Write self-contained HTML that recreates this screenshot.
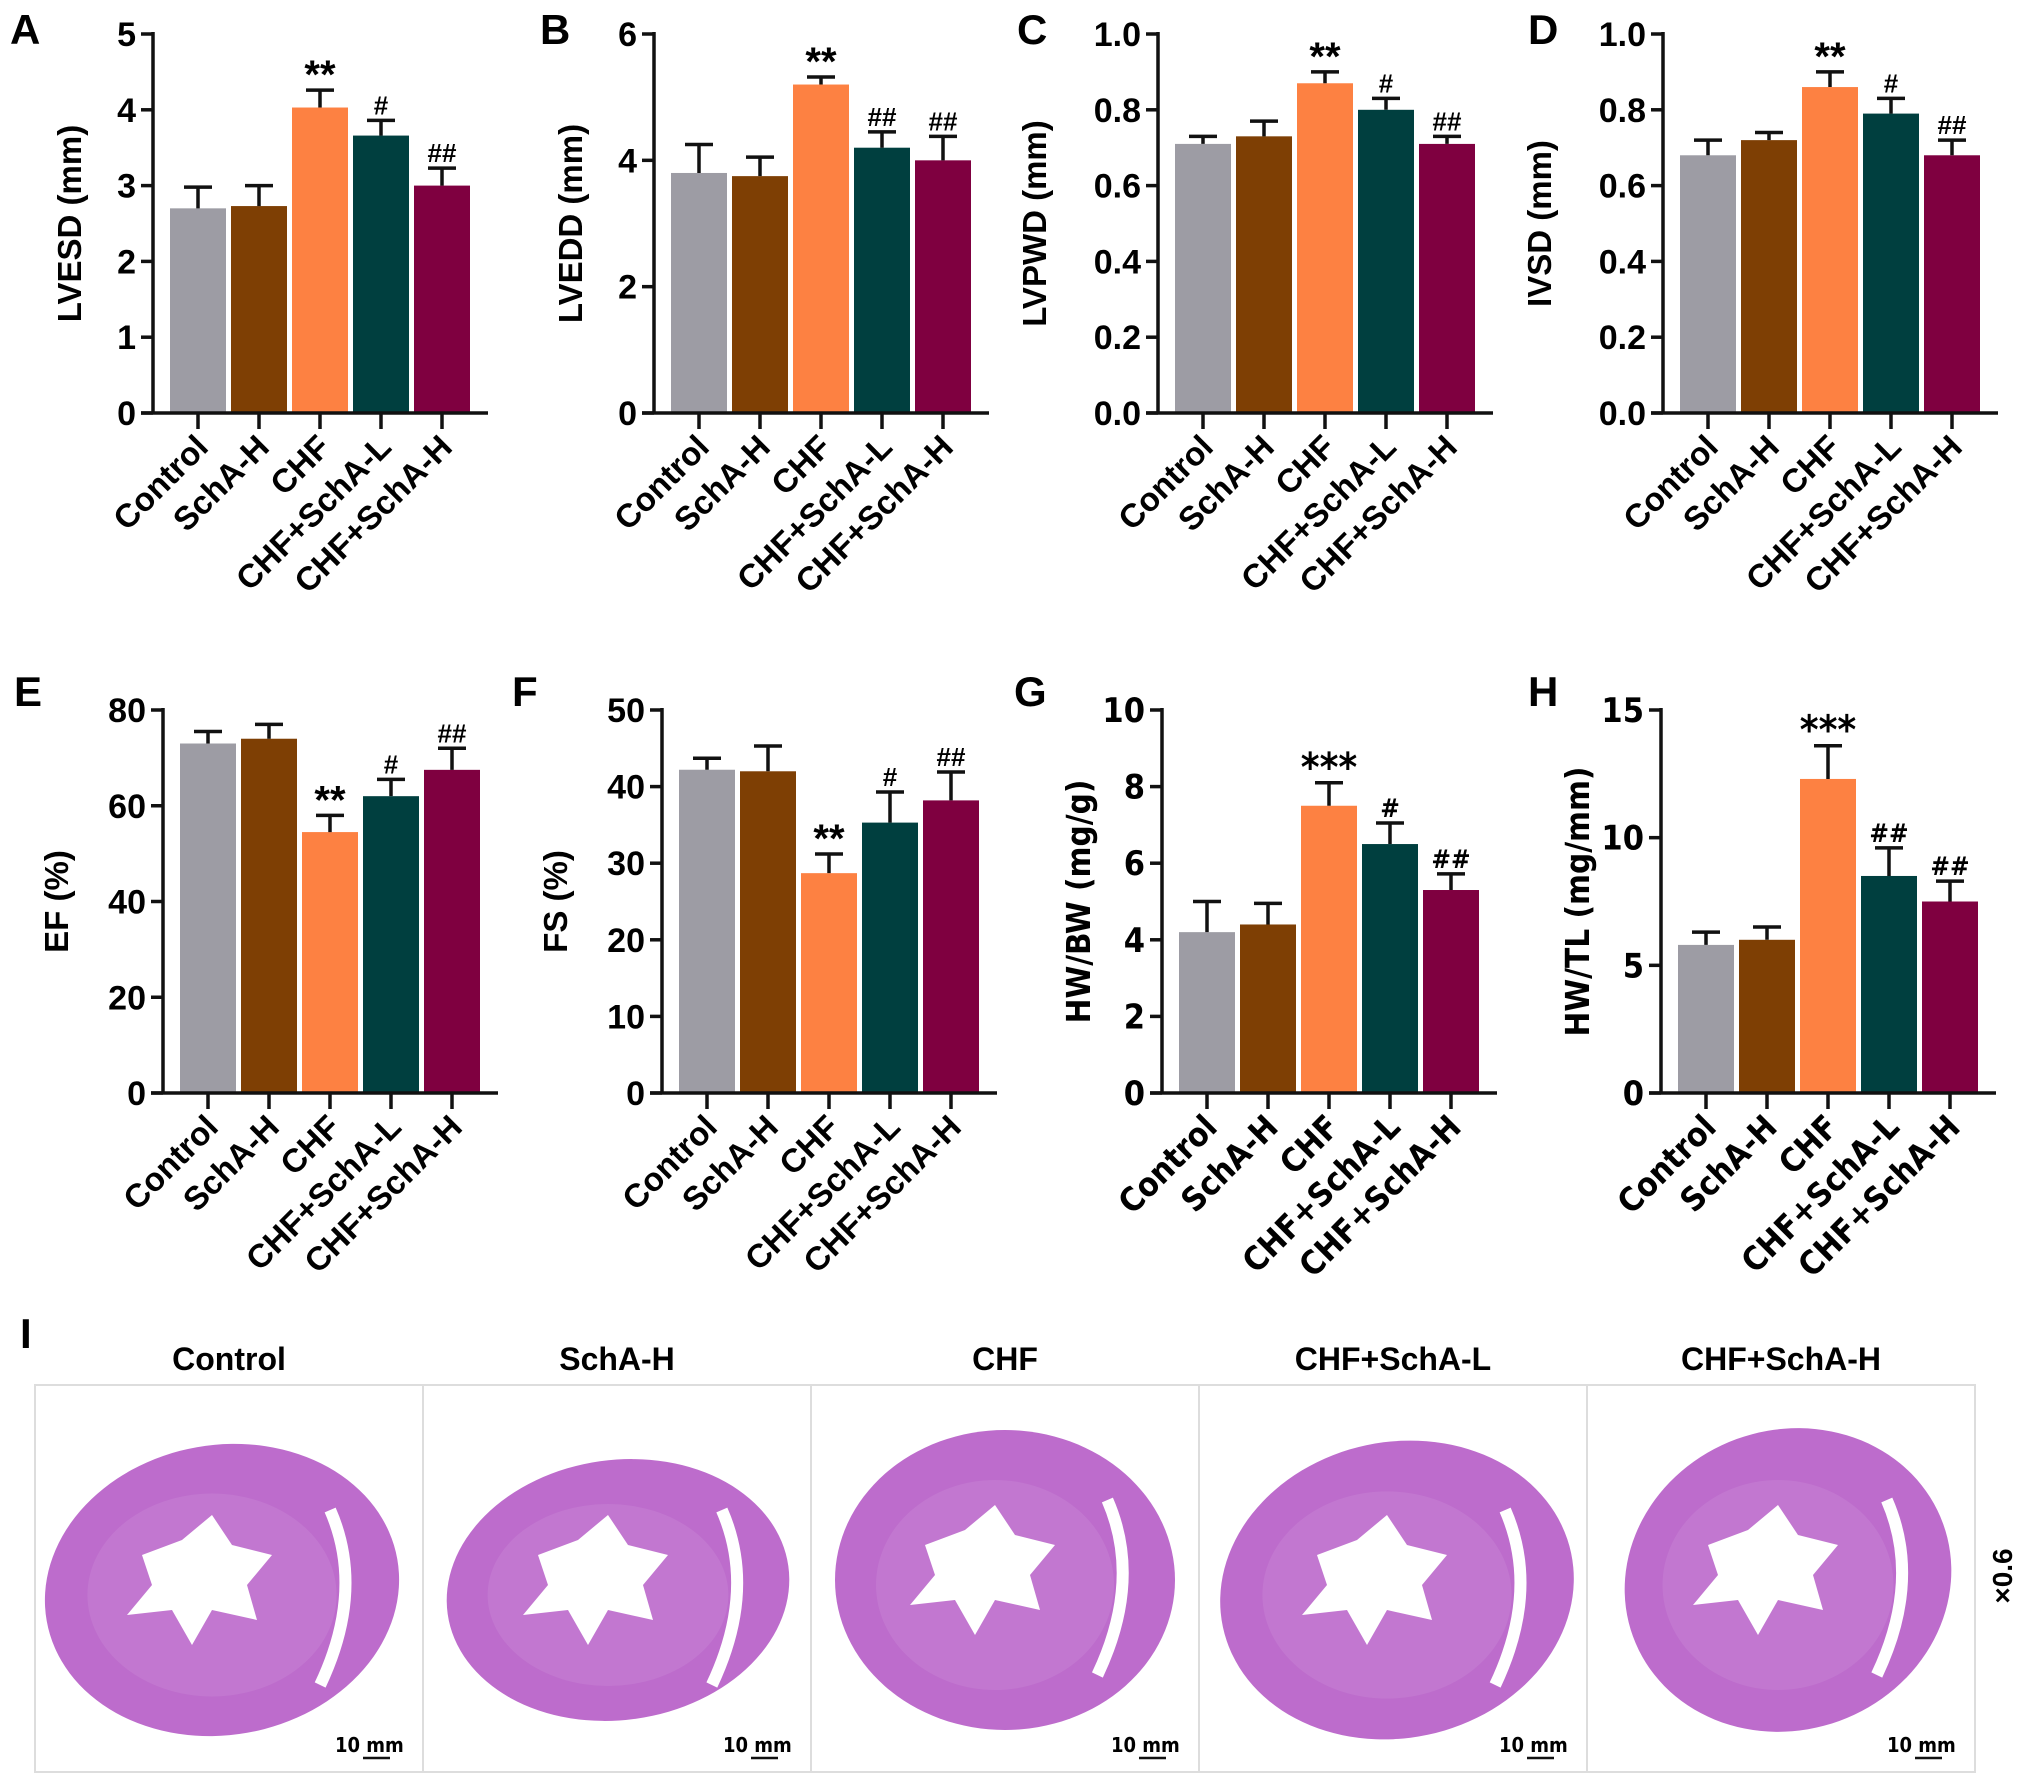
<!DOCTYPE html>
<html><head><meta charset="utf-8">
<style>
html,body{margin:0;padding:0;background:#fff;}
svg{display:block;font-family:"Liberation Sans",Arial,sans-serif;}
</style></head>
<body>
<svg id="fig" width="2031" height="1787" viewBox="0 0 2031 1787"></svg>
<script>
const categories = ["Control","SchA-H","CHF","CHF+SchA-L","CHF+SchA-H"];
const colors = ["#9d9ca4","#7e3f04","#fd8142","#003f3f","#7f0040"];
const lvesdValues = [2.70, 2.73, 4.03, 3.66, 3.00];
const lvesdErrors = [0.28, 0.27, 0.23, 0.20, 0.23];
const lvesdSig = ["", "", "**", "#", "##"];
const lvesdTicks = [0,1,2,3,4,5];
const lveddValues = [3.80, 3.75, 5.20, 4.20, 4.00];
const lveddErrors = [0.45, 0.30, 0.12, 0.25, 0.38];
const lveddSig = ["", "", "**", "##", "##"];
const lveddTicks = [0,2,4,6];
const lvpwdValues = [0.71, 0.73, 0.87, 0.80, 0.71];
const lvpwdErrors = [0.02, 0.04, 0.03, 0.03, 0.02];
const lvpwdSig = ["", "", "**", "#", "##"];
const ivsdValues = [0.68, 0.72, 0.86, 0.79, 0.68];
const ivsdErrors = [0.04, 0.02, 0.04, 0.04, 0.04];
const ivsdSig = ["", "", "**", "#", "##"];
const fracTicks = ["0.0","0.2","0.4","0.6","0.8","1.0"];
const efValues = [73.0, 74.0, 54.5, 62.0, 67.5];
const efErrors = [2.5, 3.0, 3.5, 3.5, 4.5];
const efSig = ["", "", "**", "#", "##"];
const efTicks = [0,20,40,60,80];
const fsValues = [42.2, 42.0, 28.7, 35.3, 38.2];
const fsErrors = [1.5, 3.3, 2.5, 4.0, 3.7];
const fsSig = ["", "", "**", "#", "##"];
const fsTicks = [0,10,20,30,40,50];
const hwbwValues = [4.2, 4.4, 7.5, 6.5, 5.3];
const hwbwErrors = [0.8, 0.55, 0.6, 0.55, 0.42];
const hwbwSig = ["", "", "***", "#", "##"];
const hwbwTicks = [0,2,4,6,8,10];
const hwtlValues = [5.8, 6.0, 12.3, 8.5, 7.5];
const hwtlErrors = [0.5, 0.5, 1.3, 1.1, 0.8];
const hwtlSig = ["", "", "***", "##", "##"];
const hwtlTicks = [0,5,10,15];

const NS = "http://www.w3.org/2000/svg";
const svg = document.getElementById("fig");
function mk(tag, attrs, parent){
  const e = document.createElementNS(NS, tag);
  for (const k in attrs) e.setAttribute(k, attrs[k]);
  (parent||svg).appendChild(e);
  return e;
}

function panel(p){
  const g = mk("g", {});
  
  
  const ax = p.ax, top = p.top, zero = p.zero;
  const ymax = parseFloat(p.ticks[p.ticks.length-1]);
  const y = v => zero - (v / ymax) * (zero - top);
  const xc = i => ax + 45 + i * 61;
  const fam = p.narrow ? '"DejaVu Sans Condensed","Liberation Sans",sans-serif' : '"Liberation Sans",sans-serif';
  const L = mk("text", {x: p.lx, y: p.ly, "font-size": 42, "font-weight": "bold", "font-family": '"Liberation Sans",sans-serif'}, g);
  L.textContent = p.letter;
  
  
  p.values.forEach((v, i) => {
    const r = mk("rect", {x: xc(i) - 28, y: y(v), width: 56, height: zero - y(v), fill: colors[i]}, g);
    
    
    const et = y(v + p.errors[i]);
    const eb = mk("path", {d: `M${xc(i)} ${y(v)}V${et}M${xc(i)-14} ${et}H${xc(i)+14}`, stroke: "#111", "stroke-width": 3.5, fill: "none"}, g);
    
    
    if (p.sig[i]) {
      const star = p.sig[i].startsWith("*");
      const s = mk("text", {x: xc(i), y: et - (star ? 2 : 6), "text-anchor": "middle", "font-size": star ? 40 : 26, "font-weight": "bold", "font-family": fam}, g);
      s.textContent = p.sig[i];
      
      
    }
  });
  const axes = mk("path", {d: `M${ax} ${top-2}V${zero}M${ax-12} ${zero}H${ax+335}`, stroke: "#111", "stroke-width": 3.5, fill: "none"}, g);
  
  
  p.ticks.forEach(t => {
    const yy = y(parseFloat(t));
    mk("path", {d: `M${ax-12} ${yy}H${ax}`, stroke: "#111", "stroke-width": 3.5}, g);
    const tl = mk("text", {x: ax - 17, y: yy + 12, "text-anchor": "end", "font-size": 34, "font-weight": "bold", "font-family": fam}, g);
    tl.textContent = t;
    
    
  });
  categories.forEach((c, i) => {
    mk("path", {d: `M${xc(i)} ${zero}V${zero+16}`, stroke: "#111", "stroke-width": 3.5}, g);
    const tx = xc(i) + 12, ty = zero + 36;
    const cl = mk("text", {x: tx, y: ty, "text-anchor": "end", "font-size": 33, "font-weight": "bold", "font-family": fam, transform: `rotate(-45 ${tx} ${ty})`}, g);
    cl.textContent = c;
    
    
  });
  const tx = ax - p.titleOff, ty = (top + zero) / 2;
  const title = mk("text", {x: tx, y: ty, "text-anchor": "middle", "font-size": 33, "font-weight": "bold", "font-family": fam, transform: `rotate(-90 ${tx} ${ty})`}, g);
  title.textContent = p.title;
  
  
}

const r1 = {top: 34, zero: 413}, r2 = {top: 710, zero: 1093};
panel({letter:"A", lx:10, ly:44, ax:153, ...r1, values:lvesdValues, errors:lvesdErrors, sig:lvesdSig, ticks:lvesdTicks.map(String), title:"LVESD (mm)", titleOff:72});
panel({letter:"B", lx:540, ly:44, ax:654, ...r1, values:lveddValues, errors:lveddErrors, sig:lveddSig, ticks:lveddTicks.map(String), title:"LVEDD (mm)", titleOff:72});
panel({letter:"C", lx:1017, ly:44, ax:1158, ...r1, values:lvpwdValues, errors:lvpwdErrors, sig:lvpwdSig, ticks:fracTicks, title:"LVPWD (mm)", titleOff:112});
panel({letter:"D", lx:1528, ly:44, ax:1663, ...r1, values:ivsdValues, errors:ivsdErrors, sig:ivsdSig, ticks:fracTicks, title:"IVSD (mm)", titleOff:112});
panel({letter:"E", lx:14, ly:706, ax:163, ...r2, values:efValues, errors:efErrors, sig:efSig, ticks:efTicks.map(String), title:"EF (%)", titleOff:95});
panel({letter:"F", lx:512, ly:706, ax:662, ...r2, values:fsValues, errors:fsErrors, sig:fsSig, ticks:fsTicks.map(String), title:"FS (%)", titleOff:95});
panel({letter:"G", lx:1014, ly:706, ax:1162, ...r2, values:hwbwValues, errors:hwbwErrors, sig:hwbwSig, ticks:hwbwTicks.map(String), title:"HW/BW (mg/g)", titleOff:72, narrow:true});
panel({letter:"H", lx:1528, ly:706, ax:1661, ...r2, values:hwtlValues, errors:hwtlErrors, sig:hwtlSig, ticks:hwtlTicks.map(String), title:"HW/TL (mg/mm)", titleOff:72, narrow:true});

const hg = mk("g", {});


const IL = mk("text", {x: 20, y: 1348, "font-size": 42, "font-weight": "bold"}, hg);
IL.textContent = "I";


const frame = mk("rect", {x: 35, y: 1385, width: 1940, height: 387, fill: "#fff", stroke: "#ddd", "stroke-width": 2}, hg);


const hearts = [
  {cx: 222, cy: 1590, rx: 178, ry: 145, rot: -10},
  {cx: 618, cy: 1590, rx: 172, ry: 130, rot: -8},
  {cx: 1005, cy: 1580, rx: 170, ry: 150, rot: 0},
  {cx: 1397, cy: 1590, rx: 178, ry: 148, rot: -12},
  {cx: 1788, cy: 1580, rx: 165, ry: 150, rot: -20}
];
hearts.forEach((h, i) => {
  const px = 35 + i * 388;
  if (i > 0) mk("line", {x1: px, y1: 1386, x2: px, y2: 1771, stroke: "#ddd", "stroke-width": 2}, hg);
  const lab = mk("text", {x: px + 194, y: 1370, "text-anchor": "middle", "font-size": 32, "font-weight": "bold"}, hg);
  lab.textContent = categories[i];
  
  
  const e = mk("ellipse", {cx: h.cx, cy: h.cy, rx: h.rx, ry: h.ry, fill: "#bd6ccc", transform: `rotate(${h.rot} ${h.cx} ${h.cy})`}, hg);
  
  
  mk("ellipse", {cx: h.cx - 10, cy: h.cy + 5, rx: h.rx * 0.7, ry: h.ry * 0.7, fill: "#c47fd2", opacity: 0.6}, hg);
  const c = h.cx - 20, d = h.cy - 5;
  const lumen = mk("path", {d: `M${c-60} ${d-30} L${c-20} ${d-45} L${c+10} ${d-70} L${c+30} ${d-40} L${c+70} ${d-30} L${c+45} ${d} L${c+55} ${d+35} L${c+10} ${d+25} L${c-10} ${d+60} L${c-30} ${d+25} L${c-75} ${d+30} L${c-50} ${d} Z`, fill: "#fff"}, hg);
  
  
  const rx = h.cx + h.rx * 0.72;
  mk("path", {d: `M${rx-20} ${h.cy-80} Q${rx+15} ${h.cy} ${rx-30} ${h.cy+95}`, stroke: "#fff", "stroke-width": 12, fill: "none"}, hg);
  const sb = mk("text", {x: px + 300, y: 1752, "font-size": 20, "font-weight": "bold", "font-family": '"DejaVu Sans Condensed","Liberation Sans",sans-serif'}, hg);
  sb.textContent = "10 mm";
  
  
  mk("line", {x1: px + 328, y1: 1758, x2: px + 355, y2: 1758, stroke: "#111", "stroke-width": 2.5}, hg);
});
const mag = mk("text", {x: 2012, y: 1576, "text-anchor": "middle", "font-size": 28, "font-weight": "bold", transform: "rotate(-90 2012 1576)"}, hg);
mag.textContent = "×0.6";


</script>
</body></html>
